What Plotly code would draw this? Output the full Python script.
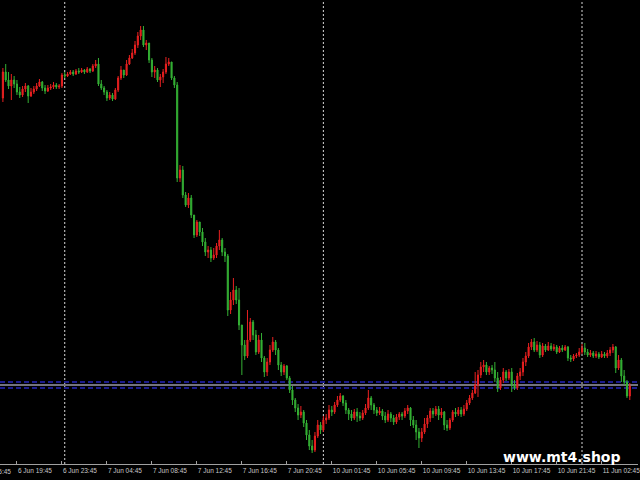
import plotly.graph_objects as go

# ---- data (price in points) ----
first_open = 382
close = [
    408, 400, 394, 400, 396, 388, 385, 391, 394, 384, 388, 391, 394, 398, 392, 389, 392, 393, 395, 393, 394, 405, 404,
    406, 408, 406, 409, 408, 410, 408, 411, 409, 414, 416, 396, 392, 388, 382, 385, 381, 390, 402, 410, 405, 416, 422,
    427, 435, 444, 450, 435, 437, 420, 408, 410, 400, 403, 408, 416, 418, 402, 395,
    302, 310, 285, 275, 282, 265, 245, 258, 248, 238, 228, 230, 222, 225, 234, 240, 228, 224, 170, 180, 190, 180, 155,
    135, 124, 140, 158, 145, 128, 140, 122, 108, 118, 130, 138, 130, 115, 108, 114, 102, 90, 80, 72, 65, 68, 57, 45,
    34, 30,
    44, 55, 50, 60, 62, 70, 68, 75, 80, 84, 77, 70, 66, 62, 68, 64, 62, 67, 72, 82, 75, 70, 67, 69, 64, 60, 66, 62, 58,
    63, 66, 64, 69, 72, 60, 55, 48, 42, 48, 56, 62, 69, 66, 71, 65, 68, 55, 52, 60, 68,
    66, 70, 66, 71, 77, 82, 87, 95, 105, 113, 115, 108, 112, 110, 102, 92, 100, 108, 102, 108, 95, 92, 104, 108, 118,
    124, 133, 138, 130, 135, 125, 134, 130, 134, 131, 133, 128, 132, 130, 133, 122, 121, 124, 125, 128, 132, 128, 125,
    127, 124, 126, 123, 126, 124, 127, 130, 133, 112, 120, 104, 98, 84, 94,
]
high = [
    412, 416, 408, 406, 404, 400, 393, 394, 397, 395, 392, 394, 397, 401, 399, 395, 395, 396, 398, 397, 396, 407, 408,
    408, 410, 410, 411, 412, 412, 411, 413, 412, 416, 420, 422, 400, 394, 390, 388, 387, 392, 404, 414, 410, 420, 425,
    431, 439, 448, 454, 454, 440, 436, 422, 414, 412, 406, 411, 423, 422, 418, 404,
    398, 315, 314, 288, 287, 285, 265, 260, 258, 252, 242, 234, 233, 232, 237, 250, 242, 232, 226, 188, 202, 194, 192,
    155, 140, 170, 162, 160, 150, 145, 147, 124, 122, 135, 143, 140, 132, 118, 116, 115, 104, 94, 82, 76, 74, 70, 60,
    50, 40,
    48, 60, 58, 64, 66, 75, 74, 78, 84, 87, 85, 80, 72, 70, 71, 72, 68, 70, 76, 90, 84, 77, 73, 73, 71, 68, 70, 68, 65,
    66, 68, 68, 72, 75, 73, 64, 60, 52, 52, 62, 65, 72, 72, 74, 74, 72, 69, 60, 62, 70,
    72, 73, 73, 75, 80, 85, 90, 108, 110, 118, 120, 118, 114, 115, 118, 108, 103, 112, 110, 111, 112, 100, 107, 112,
    122, 128, 137, 141, 142, 139, 138, 137, 136, 138, 137, 136, 135, 134, 135, 135, 134, 125, 126, 127, 132, 136, 137,
    131, 130, 129, 129, 128, 129, 128, 130, 133, 136, 134, 125, 122, 110, 100, 97,
]
low = [
    378, 398, 391, 380, 392, 385, 382, 383, 388, 377, 383, 386, 389, 393, 389, 386, 388, 390, 391, 391, 391, 392, 402,
    403, 405, 404, 405, 406, 407, 406, 407, 407, 408, 412, 394, 390, 385, 379, 380, 379, 380, 388, 400, 402, 404, 415,
    421, 425, 432, 440, 433, 430, 417, 403, 402, 398, 393, 397, 406, 414, 400, 392,
    298, 298, 282, 273, 272, 262, 242, 243, 244, 234, 224, 222, 218, 220, 222, 230, 224, 218, 164, 166, 175, 176, 150,
    105, 120, 122, 138, 140, 125, 126, 118, 103, 104, 115, 128, 125, 110, 104, 105, 100, 87, 75, 68, 60, 62, 53, 40,
    30, 27,
    28, 42, 46, 48, 56, 60, 64, 66, 73, 78, 74, 66, 60, 59, 60, 58, 59, 60, 65, 70, 70, 66, 64, 65, 60, 57, 58, 58, 55,
    56, 60, 60, 62, 66, 54, 52, 40, 32, 38, 46, 52, 58, 62, 64, 60, 62, 50, 49, 50, 58,
    63, 64, 63, 64, 69, 75, 80, 86, 83, 102, 108, 105, 105, 106, 98, 88, 90, 97, 99, 100, 88, 90, 90, 100, 104, 114,
    122, 130, 128, 128, 122, 123, 128, 129, 129, 129, 126, 127, 128, 129, 119, 118, 119, 122, 123, 126, 125, 123, 123,
    122, 122, 121, 122, 122, 122, 124, 127, 107, 110, 98, 95, 82, 80,
]
tick_labels = ["6 Jun 19:45", "6 Jun 23:45", "7 Jun 04:45", "7 Jun 08:45", "7 Jun 12:45",
               "7 Jun 16:45", "7 Jun 20:45", "10 Jun 01:45", "10 Jun 05:45", "10 Jun 09:45",
               "10 Jun 13:45", "10 Jun 17:45", "10 Jun 21:45", "11 Jun 02:45"]
prev_label = "6 Jun 15:45"
first_tick_bar = 5
bars_per_tick = 16
day_starts = [22, 114, 206]
level = 95

# ---- derived ----
n = len(close)
idx = list(range(n))
opens = [first_open] + close[:-1]
hi = [max(h, o, c) for h, o, c in zip(high, opens, close)]
lo = [min(l, o, c) for l, o, c in zip(low, opens, close)]
tickvals = [first_tick_bar + bars_per_tick * k for k in range(len(tick_labels))]

RED = "#e82020"
GREEN = "#34b034"

fig = go.Figure()
fig.add_trace(go.Candlestick(
    x=idx, open=opens, high=hi, low=lo, close=close,
    increasing=dict(line=dict(color=RED, width=1), fillcolor=RED),
    decreasing=dict(line=dict(color=GREEN, width=1), fillcolor=GREEN),
    whiskerwidth=0, hoverinfo="skip", showlegend=False,
))

xr = [-1.03, 225.92]
shapes = []
for d in day_starts:
    shapes.append(dict(type="line", xref="x", yref="paper", x0=d, x1=d, y0=0, y1=1,
                       line=dict(color="#d8d8d8", width=1, dash="2px,2px"), layer="below"))
for off in (-3, 3):
    shapes.append(dict(type="line", xref="paper", yref="y", x0=0, x1=1, y0=level + off, y1=level + off,
                       line=dict(color="#1c1c8c", width=2, dash="5px,3px"), layer="below"))
shapes.append(dict(type="line", xref="paper", yref="y", x0=0, x1=1, y0=level, y1=level,
                   line=dict(color="#9a9aa8", width=1.5), layer="below"))

prev_tick = first_tick_bar - bars_per_tick
annotations = [
    dict(text="www.mt4.shop", xref="paper", yref="paper", x=0.785, y=0.015, xanchor="left", yanchor="middle",
         showarrow=False, font=dict(family="DejaVu Sans", size=14, color="#ffffff", weight="bold")),
    dict(text=prev_label, xref="paper", yref="paper", x=(prev_tick - xr[0]) / (xr[1] - xr[0]) + 0.004,
         y=0, yshift=-2, xanchor="left", yanchor="top", showarrow=False,
         font=dict(family="Liberation Sans", size=6.5, color="#c8c8c8")),
]

fig.update_layout(
    width=640, height=480,
    margin=dict(l=0, r=0, t=0, b=16),
    paper_bgcolor="#000000", plot_bgcolor="#000000",
    boxgap=0.45,
    shapes=shapes, annotations=annotations,
    xaxis=dict(range=xr, rangeslider=dict(visible=False), showgrid=False, zeroline=False,
               tickmode="array", tickvals=tickvals, ticktext=tick_labels, tickangle=0,
               ticks="inside", ticklen=3, tickcolor="#a0a0a0",
               ticklabelposition="outside right", ticklabeloverflow="allow",
               tickfont=dict(family="Liberation Sans", size=6.5, color="#c8c8c8"),
               showline=True, linecolor="#a0a0a0", linewidth=1, fixedrange=True),
    yaxis=dict(range=[16, 480], showgrid=False, zeroline=False, showticklabels=False,
               showline=False, fixedrange=True),
)

fig.write_html("out.html", config={"displayModeBar": False})

# remove the browser's default page margin so the 640x480 figure fills the window
with open("out.html", "r", encoding="utf-8") as f:
    html = f.read()
html = html.replace("<body>", '<body style="margin:0;padding:0;background:#000000;overflow:hidden">', 1)
with open("out.html", "w", encoding="utf-8") as f:
    f.write(html)
